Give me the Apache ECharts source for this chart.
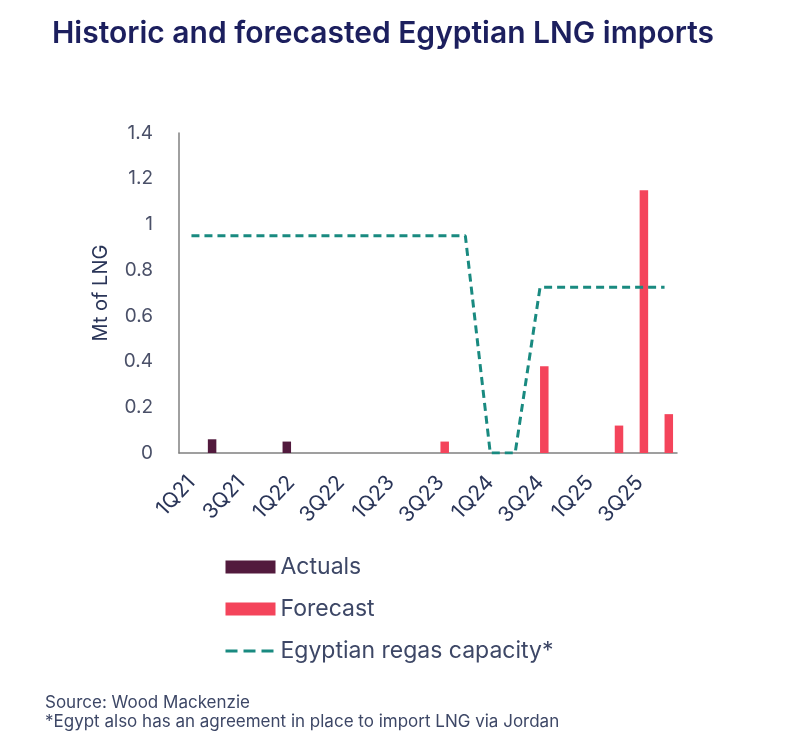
<!DOCTYPE html>
<html>
<head>
<meta charset="utf-8">
<script src="https://cdn.jsdelivr.net/npm/echarts@6/dist/echarts.min.js"></script>
<style>
html,body{margin:0;padding:0;background:#fff;}
#chart{width:785px;height:749px;}
</style>
</head>
<body>
<div id="chart"></div>
<script>
const categories = ['1Q21','2Q21','3Q21','4Q21','1Q22','2Q22','3Q22','4Q22','1Q23','2Q23','3Q23','4Q23','1Q24','2Q24','3Q24','4Q24','1Q25','2Q25','3Q25','4Q25'];
const actuals  = [null,0.06,null,null,0.05,null,null,null,null,null,null,null,null,null,null,null,null,null,null,null];
const forecast = [null,null,null,null,null,null,null,null,null,null,0.05,null,null,null,0.38,null,null,0.12,1.15,0.17];
const capacity = [0.95,0.95,0.95,0.95,0.95,0.95,0.95,0.95,0.95,0.95,0.95,0.95,0,0,0.725,0.725,0.725,0.725,0.725,0.725];
const yTicks = [0,0.2,0.4,0.6,0.8,1,1.2,1.4];

const chart = echarts.init(document.getElementById('chart'));
const navy = '#2a3558';
chart.setOption({
  animation: false,
  backgroundColor: '#ffffff',
  title: {
    text: 'Historic and forecasted Egyptian LNG imports',
    left: 47, top: 14,
    textStyle: {fontFamily: 'Inter', fontWeight: 600, fontSize: 30, color: '#1c1f5e'}
  },
  graphic: [
    {type: 'text', left: 45, top: 694, style: {text: 'Source: Wood Mackenzie', fontFamily: 'Inter', fontSize: 17, fill: '#3d4766'}},
    {type: 'text', left: 45, top: 713, style: {text: '*Egypt also has an agreement in place to import LNG via Jordan', fontFamily: 'Inter', fontSize: 17, fill: '#3d4766'}}
  ],
  legend: {
    orient: 'vertical', left: 219, top: 550,
    itemWidth: 50, itemHeight: 13, itemGap: 18,
    textStyle: {fontFamily: 'Inter', fontSize: 23, color: '#3d4766', lineHeight: 24},
    data: [
      {name: 'Actuals', icon: 'rect'},
      {name: 'Forecast', icon: 'rect'},
      {name: 'Egyptian regas capacity*', itemStyle: {opacity: 0}, lineStyle: {type: [12, 6], width: 3, color: '#198a80'}}
    ]
  },
  grid: {left: 179, right: 108, top: 133, bottom: 296, containLabel: false},
  xAxis: {
    type: 'category', data: categories, boundaryGap: true,
    axisLine: {lineStyle: {color: '#808080', width: 1.5}},
    axisTick: {show: false},
    axisLabel: {interval: 1, rotate: 47, margin: 26, fontFamily: 'Inter', fontSize: 21, color: navy}
  },
  yAxis: {
    type: 'value', min: 0, max: 1.4, interval: 0.2,
    name: 'Mt of LNG', nameLocation: 'middle', nameGap: 68, nameRotate: 90,
    nameTextStyle: {fontFamily: 'Inter', fontSize: 20, color: navy},
    axisLine: {show: true, lineStyle: {color: '#808080', width: 1.5}},
    axisTick: {show: false},
    splitLine: {show: false},
    axisLabel: {margin: 26, fontFamily: 'Inter', fontSize: 19, color: '#4a5068',
      formatter: v => { const t = yTicks.find(x => Math.abs(x - v) < 1e-9); return String(t !== undefined ? +t.toFixed(1) : v); }}
  },
  series: [
    {name: 'Actuals', type: 'bar', data: actuals, barWidth: 8.5, barGap: '0%', itemStyle: {color: '#521a3d'}},
    {name: 'Forecast', type: 'bar', data: forecast, barWidth: 8.5, barGap: '0%', itemStyle: {color: '#f4445b'}},
    {name: 'Egyptian regas capacity*', type: 'line', data: capacity, symbol: 'none',
     lineStyle: {color: '#198a80', width: 3, type: [8, 5]}, itemStyle: {color: '#198a80'}}
  ]
});
</script>
</body>
</html>
